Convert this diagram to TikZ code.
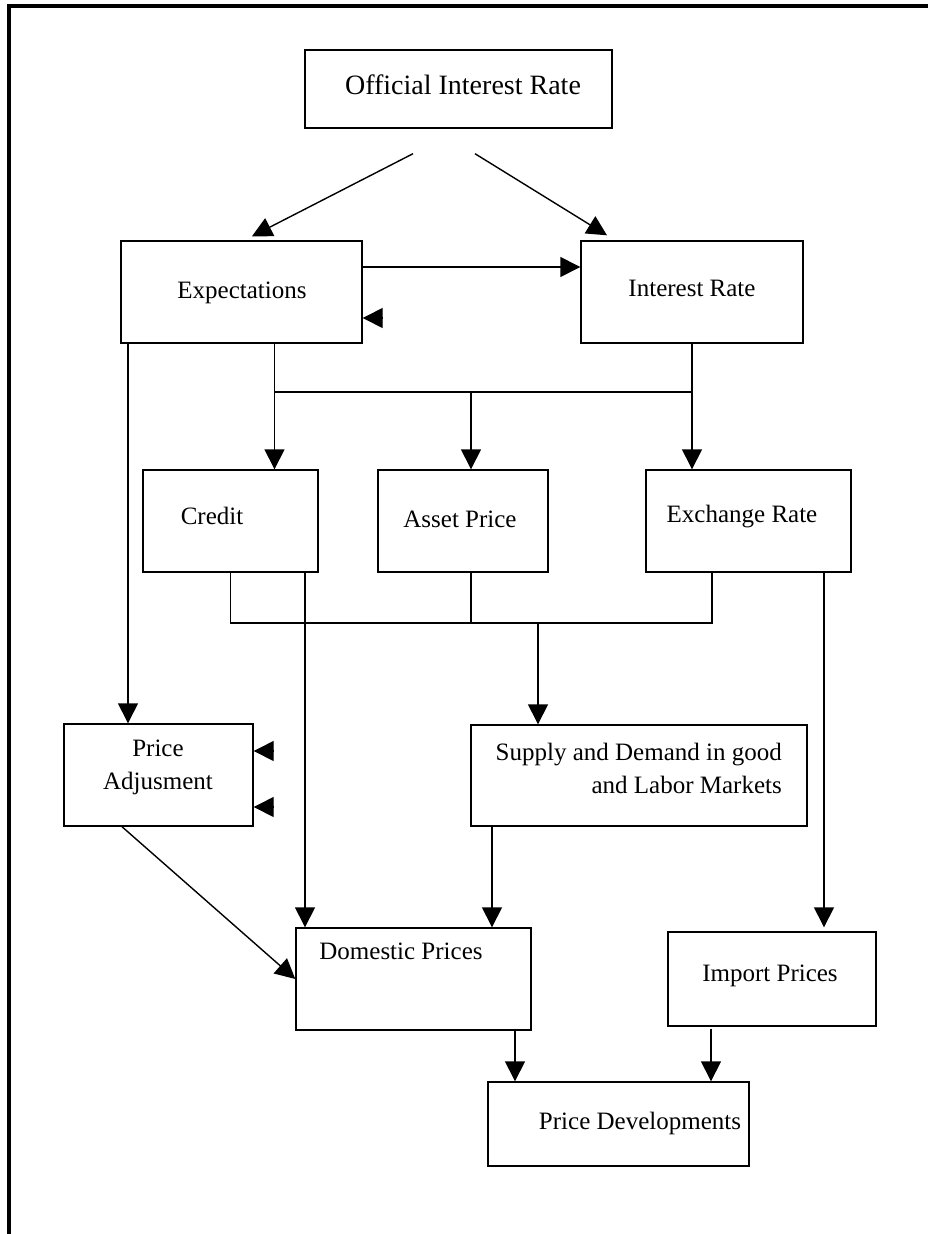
\documentclass[tikz,border=0pt]{standalone}
\usepackage{fontspec}
\setmainfont{Liberation Serif}
\usetikzlibrary{arrows.meta,calc}

\tikzset{
  box/.style={draw,line width=1.4pt,inner sep=0pt},
  lbl/.style={font=\fontsize{25}{33}\selectfont,inner sep=0pt},
  arr/.style={line width=1.4pt,-{Triangle[length=20pt,width=20pt]}},
  link/.style={line width=1.4pt}
}

\begin{document}
\begin{tikzpicture}[x=1pt,y=-1pt]
  \useasboundingbox (0,0) rectangle (928,1234);
  \draw[line width=3.5pt] (9,1234) -- (9,6) -- (928,6);

  % boxes
  \node[box,minimum width=307pt,minimum height=78pt]  (official) at (458.5,89) {};
  \node[box,minimum width=241pt,minimum height=102pt] (expect)   at (241.5,292) {};
  \node[box,minimum width=222pt,minimum height=102pt] (irate)    at (692,292) {};
  \node[box,minimum width=175pt,minimum height=102pt] (credit)   at (230.5,521) {};
  \node[box,minimum width=170pt,minimum height=102pt] (asset)    at (463,521) {};
  \node[box,minimum width=205pt,minimum height=102pt] (exch)     at (748.5,521) {};
  \node[box,minimum width=189pt,minimum height=102pt] (priceadj) at (158.5,775) {};
  \node[box,minimum width=336pt,minimum height=101pt] (supply)   at (639,775.5) {};
  \node[box,minimum width=235pt,minimum height=102pt] (domestic) at (413.5,979) {};
  \node[box,minimum width=208pt,minimum height=94pt]  (import)   at (772,979) {};
  \node[box,minimum width=261pt,minimum height=84pt]  (pricedev) at (618.5,1124) {};

  % labels
  \node[lbl,font=\fontsize{28}{33}\selectfont] (official-t) at (463,85) {Official Interest Rate};
  \node[lbl] (expect-t) at (242,293) {Expectations};
  \node[lbl] (irate-t) at (692,288) {Interest Rate};
  \node[lbl] (credit-t) at (212,516) {Credit};
  \node[lbl] (asset-t) at (460,519) {Asset Price};
  \node[lbl] (exch-t) at (742,517) {Exchange Rate};
  \node[lbl,align=center] (priceadj-t) at (158,767) {Price\\Adjusment};
  \node[lbl,align=right,anchor=east] (supply-t) at (782,768) {Supply and Demand in good\\and Labor Markets};
  \node[lbl] (domestic-t) at (401,951) {Domestic Prices};
  \node[lbl] (import-t) at (770,976) {Import Prices};
  \node[lbl] (pricedev-t) at (640,1123) {Price Developments};

  \coordinate (topbus) at (471,392);
  \coordinate (lowbus) at (538,623);

  % connectors
  \draw[arr] ($(official.south)+(-45.5,25)$) -- ([xshift=10.5pt,yshift=4pt]expect.north);
  \draw[arr] ($(official.south)+(16.5,25)$) -- ([xshift=-85pt,yshift=5pt]irate.north);
  \draw[arr] ([yshift=25pt]expect.east) -- ([yshift=25pt]irate.west);
  \draw[arr] ([shift={(20pt,-26pt)}]expect.east) -- ([yshift=-26pt]expect.east);

  \draw[arr] ([xshift=33pt]expect.south) -- ([xshift=33pt]expect.south |- credit.north);
  \draw[link] ([xshift=33pt]expect.south |- topbus) -- (irate.south |- topbus);
  \draw[arr] (irate.south) -- (irate.south |- exch.north);
  \draw[arr] (topbus) -- (topbus |- asset.north);
  \draw[arr] ([xshift=-113.5pt]expect.south) -- ([xshift=-113.5pt]expect.south |- priceadj.north);

  \draw[link] (credit.south) -- (credit.south |- lowbus) -- ([xshift=-36.5pt]exch.south |- lowbus) -- ([xshift=-36.5pt]exch.south);
  \draw[link] (topbus |- asset.south) -- (topbus |- lowbus);
  \draw[arr] (lowbus) -- (lowbus |- supply.north);

  \draw[arr] ([xshift=74.5pt]credit.south) -- ([xshift=74.5pt]credit.south |- domestic.north);
  \draw[arr] ([xshift=75.5pt]exch.south) -- ([xshift=75.5pt,yshift=4pt]exch.south |- import.north);

  \draw[arr] ([shift={(20pt,24pt)}]priceadj.east) -- ([yshift=24pt]priceadj.east);
  \draw[arr] ([shift={(20pt,-32pt)}]priceadj.east) -- ([yshift=-32pt]priceadj.east);

  \draw[arr] ([xshift=-36.5pt]priceadj.south) -- (domestic.west);
  \draw[arr] ([xshift=-147pt]supply.south) -- ([xshift=-147pt]supply.south |- domestic.north);

  \draw[arr] ([xshift=-103.5pt,yshift=2pt]pricedev.north |- domestic.south) -- ([xshift=-103.5pt]pricedev.north);
  \draw[arr] ([xshift=92.5pt,yshift=-2pt]pricedev.north |- import.south) -- ([xshift=92.5pt]pricedev.north);
\end{tikzpicture}
\end{document}
